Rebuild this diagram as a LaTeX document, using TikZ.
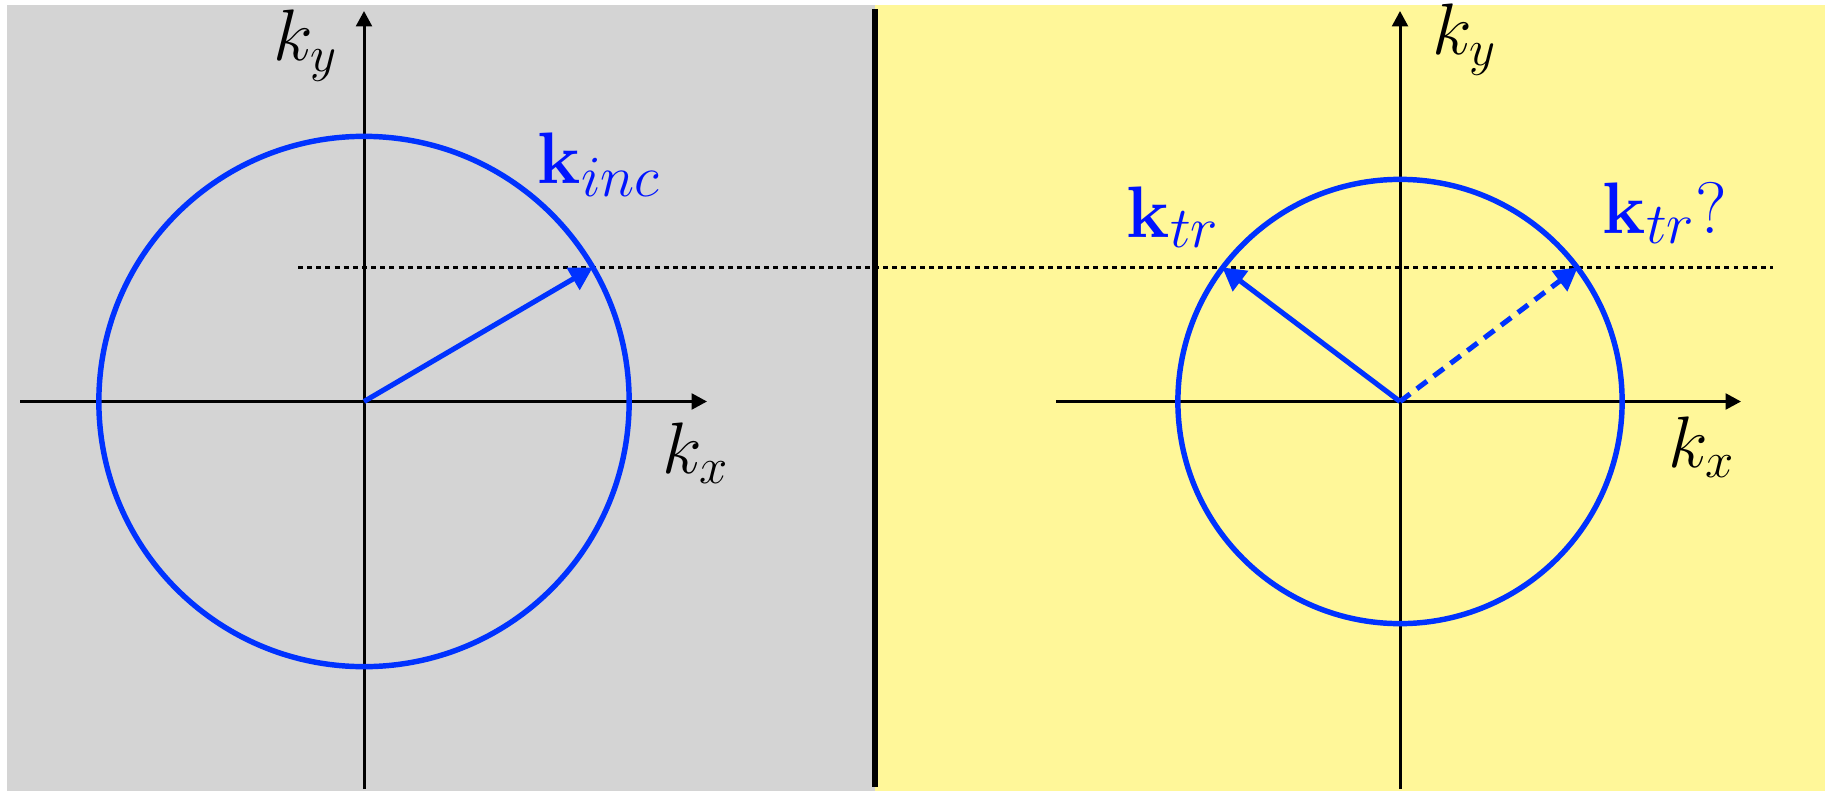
\documentclass[tikz,border=0pt]{standalone}
\usepackage{graphicx}
\usetikzlibrary{arrows.meta}
\definecolor{bgGray}{RGB}{212,212,212}
\definecolor{bgYellow}{RGB}{255,247,153}
\definecolor{vecBlue}{RGB}{0,50,255}
\definecolor{txtBlue}{RGB}{0,20,255}
\newcommand{\bigsub}[1]{\scalebox{1.15}{$\scriptstyle #1$}}
\tikzset{
  axis/.style={line width=0.85pt, -{Triangle[length=4.4pt,width=4.5pt]}},
  ring/.style={line width=1.55pt, draw=vecBlue},
  vec/.style={line width=1.45pt, draw=vecBlue, -{Triangle[length=6.5pt,width=7pt]}, vecBlue},
  dvec/.style={vec, dash pattern=on 3.6pt off 2.4pt},
  guide/.style={line width=0.75pt, dash pattern=on 1.4pt off 1.2pt},
  axlabel/.style={anchor=base west, inner sep=0pt, font=\huge},
  veclabel/.style={anchor=base west, inner sep=0pt, text=txtBlue, font=\huge},
}
\begin{document}
\begin{tikzpicture}[x=0.01cm, y=-0.01cm]
\useasboundingbox (0,0) rectangle (1825,791);
\fill[white] (0,0) rectangle (1825,791);
\fill[bgGray] (7,5) rectangle (875,791);
\fill[bgYellow] (875,5) rectangle (1825,791);
% origins and axis ends
\coordinate (O1) at (364,401.5);
\coordinate (O2) at (1400,401.5);
\coordinate (L1xa) at (20,401.5);
\coordinate (L1xb) at (707,401.5);
\coordinate (L1ya) at (364,789);
\coordinate (L1yb) at (364,11);
\coordinate (L2xa) at (1056,401.5);
\coordinate (L2xb) at (1741,401.5);
\coordinate (L2ya) at (1400,789);
\coordinate (L2yb) at (1400,11);
\coordinate (D1) at (298,267.4);
\coordinate (D2) at (1773,267.4);
\coordinate (T1) at (592.8,267.4);
\coordinate (T2) at (1222.3,267.4);
\coordinate (T3) at (1577.7,267.4);
\coordinate (Wa) at (875,9);
\coordinate (Wb) at (875,787);
% dividing wall
\draw[line width=1.5pt] (Wa) -- (Wb);
% guide line
\draw[guide] (D1) -- (D2);
% axes
\draw[axis] (L1xa) -- (L1xb);
\draw[axis] (L1ya) -- (L1yb);
\draw[axis] (L2xa) -- (L2xb);
\draw[axis] (L2ya) -- (L2yb);
% circles
\draw[ring] (O1) circle[radius=2.65cm];
\draw[ring] (O2) circle[radius=2.22cm];
% vectors
\draw[vec] (O1) -- (T1);
\draw[vec] (O2) -- (T2);
\draw[dvec] (O2) -- (T3);
% labels
\node[axlabel] (ky1) at (273,61) {$k_y$};
\node[axlabel] (kx1) at (662,473) {$k_x$};
\node[axlabel] (ky2) at (1432,55) {$k_y$};
\node[axlabel] (kx2) at (1668,467) {$k_x$};
\node[veclabel] (kinc) at (537,183) {$\mathbf{k}_{\bigsub{inc}}$};
\node[veclabel] (ktr) at (1126,237) {$\mathbf{k}_{\bigsub{tr}}$};
\node[veclabel] (ktrq) at (1602,233) {$\mathbf{k}_{\bigsub{tr}}?$};
\end{tikzpicture}
\end{document}
